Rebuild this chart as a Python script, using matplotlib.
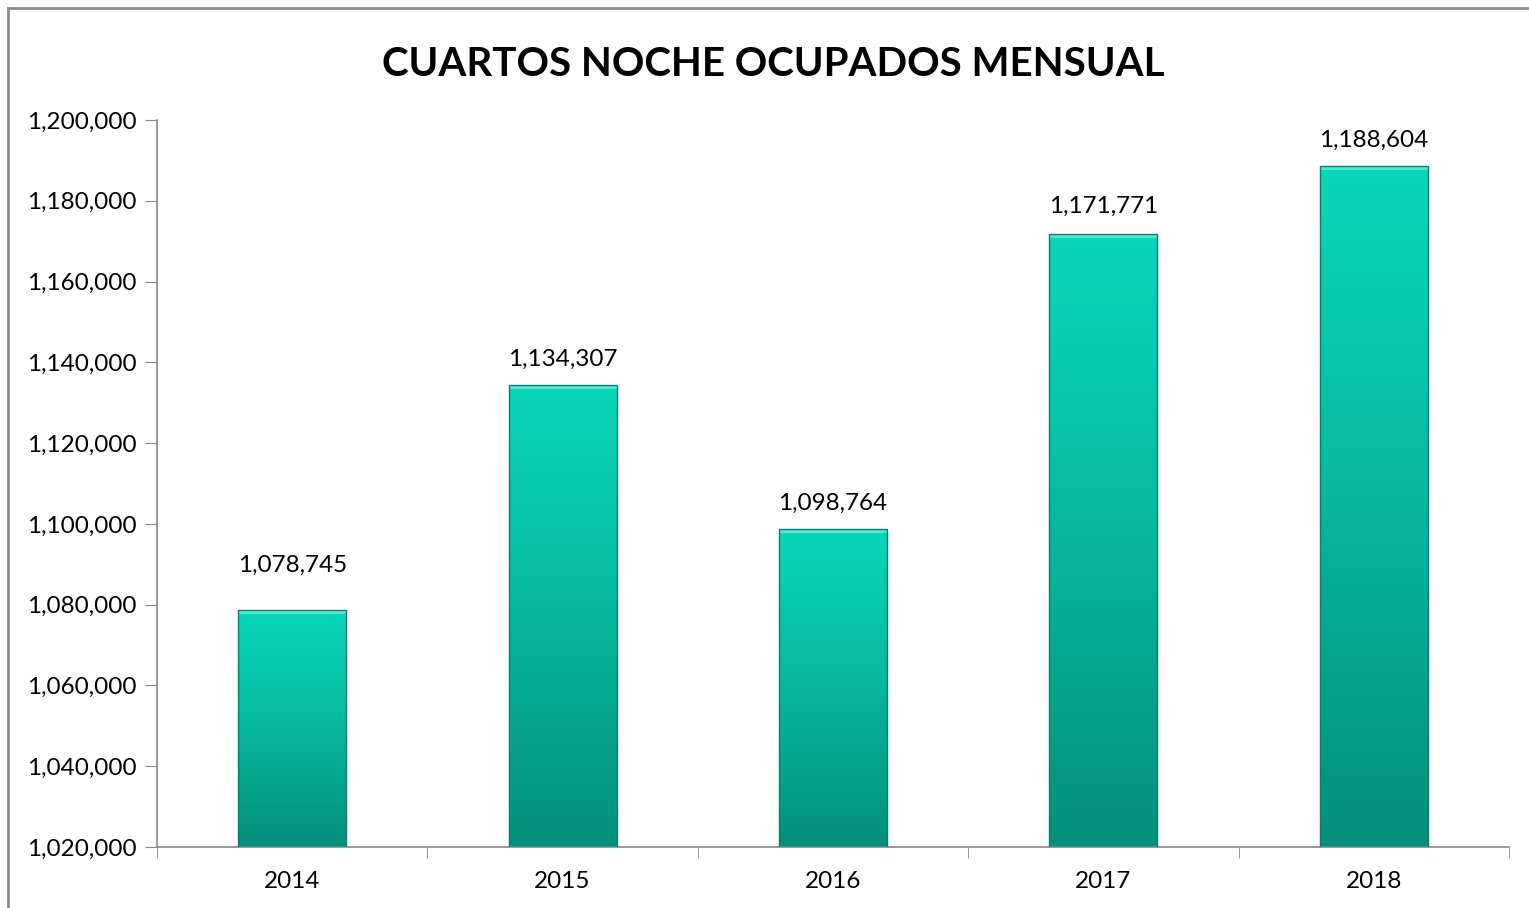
import numpy as np
import matplotlib.pyplot as plt
from matplotlib.colors import LinearSegmentedColormap
from matplotlib.lines import Line2D
from matplotlib.ticker import FuncFormatter, MultipleLocator

years = ['2014', '2015', '2016', '2017', '2018']
rooms = [1078745, 1134307, 1098764, 1171771, 1188604]

plt.rcParams['font.family'] = ['Lato', 'DejaVu Sans']

fig = plt.figure(figsize=(15.29, 9.08), dpi=100)
ax = fig.add_axes([0.1027, 0.0672, 0.8842, 0.8006])

ymin, ymax = 1020000, 1200000
x = np.arange(len(years))
bars = ax.bar(x, [v - ymin for v in rooms], bottom=ymin, width=0.4,
              color='none', edgecolor='#06806f', linewidth=1.0, zorder=3)

# vertical gradient inside each bar
cmap = LinearSegmentedColormap.from_list('teal', ['#048f7c', '#07b79d', '#0bd6ba'])
grad = np.linspace(0, 1, 256).reshape(-1, 1)
for b in bars:
    x0, y0 = b.get_x(), b.get_y()
    w, h = b.get_width(), b.get_height()
    im = ax.imshow(grad, cmap=cmap, aspect='auto', origin='lower',
                   extent=(x0, x0 + w, y0, y0 + h), zorder=2)
    im.set_clip_path(b)
    # bevel highlight at top
    ax.fill_between([x0, x0 + w], y0 + h - 1000, y0 + h, color='#3ff0d6', zorder=2.5, lw=0)

# first label sits a bit higher in the original
lift = [8500, 3800, 3800, 4200, 3800]
for xi, v, d in zip(x, rooms, lift):
    ax.text(xi, v + d, f'{v:,}', ha='center', va='bottom', fontsize=17.5, color='black')

ax.set_xlim(-0.5, len(years) - 0.5)
ax.set_ylim(ymin, ymax)
ax.set_xticks(x)
ax.set_xticklabels(years, fontsize=17.5)
ax.set_xticks(np.arange(-0.5, len(years)), minor=True)
ax.tick_params(axis='x', which='major', length=0, pad=17)
ax.tick_params(axis='x', which='minor', length=8, color='#888888', direction='out')
ax.yaxis.set_major_locator(MultipleLocator(20000))
ax.yaxis.set_major_formatter(FuncFormatter(lambda v, p: f'{int(v):,}'))
ax.tick_params(axis='y', length=9, color='#888888', labelsize=17.5, pad=6)

for s in ['top', 'right']:
    ax.spines[s].set_visible(False)
ax.spines['left'].set_color('#888888')
ax.spines['bottom'].set_color('#888888')
ax.spines['left'].set_linewidth(1.2)
ax.spines['bottom'].set_linewidth(1.2)

fig.text(0.506, 0.929, 'CUARTOS NOCHE OCUPADOS MENSUAL', ha='center', va='center',
         fontsize=29, fontweight='bold')

# outer frame (chart area border)
fig.add_artist(Line2D([8 / 1529, 8 / 1529], [0, 1 - 8 / 908], color='#8c8c8c', lw=2,
                      transform=fig.transFigure))
fig.add_artist(Line2D([8 / 1529, 1], [1 - 8 / 908, 1 - 8 / 908], color='#8c8c8c', lw=2,
                      transform=fig.transFigure))

fig.savefig('out.png', dpi=100)
